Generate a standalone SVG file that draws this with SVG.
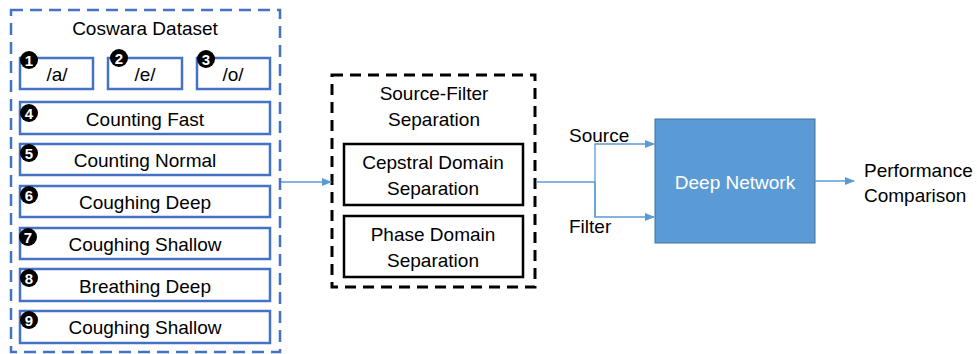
<svg xmlns="http://www.w3.org/2000/svg" width="977" height="354" viewBox="0 0 977 354">
<style>
text{font-family:"Liberation Sans",Arial,sans-serif;font-size:19px;fill:#000;}
.c{text-anchor:middle;}
.bx{fill:#fff;stroke:#4472C4;stroke-width:2.5;}
.num{fill:#000;}
.nt{fill:#fff;font-size:15px;font-weight:bold;text-anchor:middle;}
.conn{fill:none;stroke:#5B9BD5;stroke-width:1.3;}
</style>
<defs>
<marker id="ah" markerWidth="10" markerHeight="8" refX="9" refY="4" orient="auto" markerUnits="userSpaceOnUse">
<path d="M0,0 L10,4 L0,8 Z" fill="#5B9BD5"/>
</marker>
</defs>
<rect width="977" height="354" fill="#fff"/>
<g id="coswara">
<rect x="11" y="10" width="269" height="342" fill="none" stroke="#4472C4" stroke-width="2.5" stroke-dasharray="12 7"/>
<text class="c" x="145" y="35">Coswara Dataset</text>
</g>
<g id="n1"><rect class="bx" x="20" y="58" width="73" height="31"/><text class="c" x="57" y="81">/a/</text><circle class="num" cx="29" cy="60" r="9"/><text class="nt" x="29" y="65.5">1</text></g>
<g id="n2"><rect class="bx" x="108" y="58" width="74" height="31"/><text class="c" x="145" y="81">/e/</text><circle class="num" cx="119" cy="58" r="9"/><text class="nt" x="119" y="63.5">2</text></g>
<g id="n3"><rect class="bx" x="197" y="58" width="73" height="31"/><text class="c" x="233" y="81">/o/</text><circle class="num" cx="206" cy="59" r="9"/><text class="nt" x="206" y="64.5">3</text></g>
<g id="n4"><rect class="bx" x="20" y="102" width="250" height="32"/><text class="c" x="145" y="126">Counting Fast</text><circle class="num" cx="29" cy="113" r="9"/><text class="nt" x="29" y="118.5">4</text></g>
<g id="n5"><rect class="bx" x="20" y="144" width="250" height="31"/><text class="c" x="145" y="167">Counting Normal</text><circle class="num" cx="29" cy="153" r="9"/><text class="nt" x="29" y="158.5">5</text></g>
<g id="n6"><rect class="bx" x="20" y="186" width="250" height="31"/><text class="c" x="145" y="209">Coughing Deep</text><circle class="num" cx="29" cy="195" r="9"/><text class="nt" x="29" y="200.5">6</text></g>
<g id="n7"><rect class="bx" x="20" y="228" width="250" height="31"/><text class="c" x="145" y="251">Coughing Shallow</text><circle class="num" cx="28" cy="237" r="9"/><text class="nt" x="28" y="242.5">7</text></g>
<g id="n8"><rect class="bx" x="20" y="269" width="250" height="32"/><text class="c" x="145" y="293">Breathing Deep</text><circle class="num" cx="29" cy="278" r="9"/><text class="nt" x="29" y="283.5">8</text></g>
<g id="n9"><rect class="bx" x="20" y="311" width="250" height="32"/><text class="c" x="145" y="334">Coughing Shallow</text><circle class="num" cx="29" cy="320" r="9"/><text class="nt" x="29" y="325.5">9</text></g>
<g id="sfs">
<rect x="332" y="75" width="203" height="212" fill="none" stroke="#000" stroke-width="3" stroke-dasharray="11 7"/>
<text class="c" x="434" y="100">Source-Filter</text>
<text class="c" x="434" y="126">Separation</text>
</g>
<g id="cepstral">
<rect x="344" y="144" width="179" height="61" fill="#fff" stroke="#000" stroke-width="2.5"/>
<text class="c" x="433" y="169">Cepstral Domain</text>
<text class="c" x="433" y="195">Separation</text>
</g>
<g id="phase">
<rect x="344" y="216" width="179" height="61" fill="#fff" stroke="#000" stroke-width="2.5"/>
<text class="c" x="433" y="241">Phase Domain</text>
<text class="c" x="433" y="267">Separation</text>
</g>
<g id="deepnet">
<rect x="655" y="119" width="160" height="124" fill="#5B9BD5" stroke="#41719C" stroke-width="1"/>
<text class="c" x="735" y="189" style="fill:#fff">Deep Network</text>
</g>
<g id="perf">
<text x="864" y="177">Performance</text>
<text x="864" y="202">Comparison</text>
</g>
<g id="connectors">
<line class="conn" x1="281" y1="182" x2="331" y2="182" marker-end="url(#ah)"/>
<polyline class="conn" points="536,182 595,182"/>
<polyline class="conn" points="595,217 595,144 654,144" marker-end="url(#ah)"/>
<polyline class="conn" points="595,182 595,217 654,217" marker-end="url(#ah)"/>
<line class="conn" x1="815" y1="181" x2="854" y2="181" marker-end="url(#ah)"/>
<text x="569" y="142">Source</text>
<text x="569" y="233">Filter</text>
</g>
</svg>
